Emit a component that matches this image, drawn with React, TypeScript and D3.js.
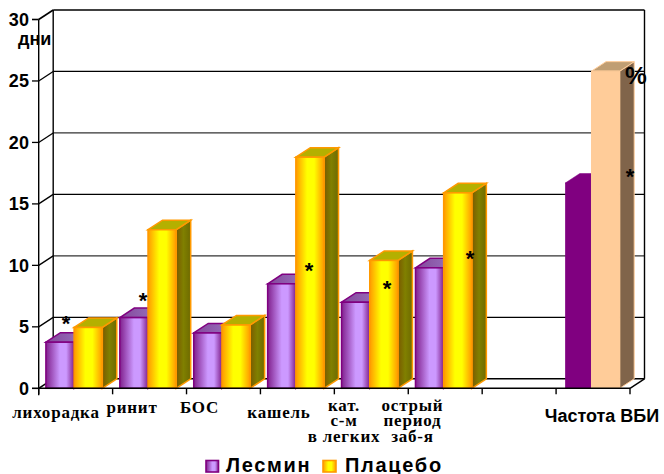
import React from "react";
import * as d3 from "d3";

const categories = ["лихорадка", "ринит", "БОС", "кашель", "кат. с-м", "острый", "", "Частота ВБИ"];
const lesmin = [3.75, 5.75, 4.5, 8.5, 7.0, 9.8, null, 16.7];
const placebo = [4.95, 12.9, 5.15, 18.8, 10.4, 15.9, null, 25.8];
const yTicks = [0, 5, 10, 15, 20, 25, 30];
const seriesNames = ["Лесмин", "Плацебо"];

// Category captions: lines of text, anchor centre, first baseline
const captionLines = [
  { lines: ["лихорадка"], cx: 56, y: 418 },
  { lines: ["ринит"], cx: 132, y: 412.5 },
  { lines: ["БОС"], cx: 199.5, y: 412.5 },
  { lines: ["кашель"], cx: 279, y: 418 },
  { lines: ["кат.", "с-м", "в легких"], cx: 344, y: 410.5 },
  { lines: ["острый", "период", "заб-я"], cx: 412.5, y: 410.5 },
];
const stars = [
  { x: 66, y: 319 },
  { x: 143, y: 296 },
  { x: 309, y: 266 },
  { x: 387, y: 284 },
  { x: 470, y: 254 },
  { x: 630, y: 172 },
];

const W = 664;
const H = 474;
const DX = 14.5;
const DY = 9.5;

const y = d3.scaleLinear().domain([0, 30]).range([388.3, 19.5]);
const x = d3.scaleBand<string>().domain(categories.map((c, i) => `${i}`)).range([38.7, 630]);
const inner = d3.scaleBand<string>().domain(seriesNames).range([7.2, 63.6]);

const poly = (pts: [number, number][]) => d3.line()(pts) + "Z";

type Paint = { front: string; side: string; top: string; stroke: string; sw: number };

const PURPLE: Paint = { front: "url(#purpleFront)", side: "#800080", top: "url(#purpleTop)", stroke: "#800080", sw: 1.5 };
const YELLOW: Paint = { front: "url(#yellowFront)", side: "url(#oliveSide)", top: "#b4b000", stroke: "#ff9900", sw: 1.5 };
const PLAIN_P: Paint = { front: "#800080", side: "#800080", top: "#800080", stroke: "#800080", sw: 0.5 };
const PLAIN_Y: Paint = { front: "#ffcc99", side: "#80644a", top: "#c09e73", stroke: "#ffcc99", sw: 1 };

function Bar({ cat, name, value, paint, inset = 0 }: { cat: string; name: string; value: number; paint: Paint; inset?: number }) {
  const x0 = (x(cat) as number) + (inner(name) as number) + inset;
  const x1 = (x(cat) as number) + (inner(name) as number) + inner.bandwidth();
  const yb = y(0);
  const yt = y(value);
  return (
    <g stroke={paint.stroke} strokeWidth={paint.sw} strokeLinejoin="miter">
      <path d={poly([[x1, yb], [x1 + DX, yb - DY], [x1 + DX, yt - DY], [x1, yt]])} fill={paint.side} />
      <path d={poly([[x0, yt], [x0 + DX, yt - DY], [x1 + DX, yt - DY], [x1, yt]])} fill={paint.top} />
      <rect x={x0} y={yt} width={x1 - x0} height={yb - yt} fill={paint.front} />
    </g>
  );
}

export default function App() {
  const backL = 38.7 + DX;
  const backR = 630 + DX;
  const serif = "'Liberation Serif', serif";
  const sans = "'Liberation Sans', sans-serif";
  return (
    <svg width={W} height={H} viewBox={`0 0 ${W} ${H}`} style={{ position: "fixed", left: 0, top: 0, background: "#fff" }}>
      <defs>
        <linearGradient id="purpleFront" x1="0" y1="0" x2="1" y2="0">
          <stop offset="0" stopColor="#80208c" />
          <stop offset="0.5" stopColor="#cc99ff" />
          <stop offset="0.72" stopColor="#cc99ff" />
          <stop offset="1" stopColor="#80208c" />
        </linearGradient>
        <linearGradient id="yellowFront" x1="0" y1="0" x2="1" y2="0">
          <stop offset="0" stopColor="#ff9900" />
          <stop offset="0.4" stopColor="#ffff00" />
          <stop offset="0.65" stopColor="#ffff00" />
          <stop offset="1" stopColor="#ff9900" />
        </linearGradient>
        <linearGradient id="oliveSide" x1="0" y1="0" x2="1" y2="0">
          <stop offset="0" stopColor="#7a5a00" />
          <stop offset="0.5" stopColor="#808000" />
          <stop offset="1" stopColor="#6e6a00" />
        </linearGradient>
        <linearGradient id="purpleTop" x1="0" y1="0" x2="1" y2="0">
          <stop offset="0" stopColor="#84479a" />
          <stop offset="1" stopColor="#9a78c4" />
        </linearGradient>
      </defs>

      {/* Walls and floor of the 3D frame */}
      <g fill="none" stroke="#000">
        {yTicks.map((t) => (
          <g key={t} strokeWidth={t === 0 || t === 30 ? 1.6 : 1.3}>
            <line x1={32} x2={38.7} y1={y(t)} y2={y(t)} stroke="#000" />
            <line x1={38.7} x2={backL} y1={y(t)} y2={y(t) - DY} />
            <line x1={backL} x2={backR} y1={y(t) - DY} y2={y(t) - DY} stroke={t === 20 || t === 10 ? "#333" : "#000"} />
          </g>
        ))}
        <line x1={38.7} x2={38.7} y1={y(30)} y2={y(0) + 7} strokeWidth={1.4} />
        <line x1={backL} x2={backL} y1={y(30) - DY} y2={y(0) - DY} strokeWidth={1.4} />
        <line x1={backR} x2={backR} y1={y(30) - DY} y2={y(0) - DY} strokeWidth={1.4} />
        <line x1={630} x2={backR} y1={y(0)} y2={y(0) - DY} strokeWidth={1.4} />
        {x.domain().map((d) => (
          <line key={d} x1={x(d)} x2={x(d)} y1={y(0)} y2={y(0) + 6} strokeWidth={1.4} />
        ))}
        <line x1={630} x2={630} y1={y(0)} y2={y(0) + 6} strokeWidth={1.4} />
      </g>

      {categories.map((_, i) => {
        const cat = `${i}`;
        const a = lesmin[i];
        const b = placebo[i];
        if (a === null || b === null) return null;
        const last = i === categories.length - 1;
        return (
          <g key={cat}>
            <Bar cat={cat} name={seriesNames[0]} value={a} paint={last ? PLAIN_P : PURPLE} inset={last ? 2 : 0} />
            <Bar cat={cat} name={seriesNames[1]} value={b} paint={last ? PLAIN_Y : YELLOW} />
          </g>
        );
      })}

      <line x1={38.7} x2={630} y1={y(0)} y2={y(0)} stroke="#000" strokeWidth={1.6} />

      {/* Value axis labels */}
      <g fontFamily={sans} fontWeight="bold" fontSize={18} fill="#000" textAnchor="end" letterSpacing={0.4}>
        {yTicks.map((t) => (
          <text key={t} x={29.5} y={y(t) + 6.5}>{t}</text>
        ))}
      </g>
      <text x={18} y={45} fontFamily={sans} fontWeight="bold" fontSize={18} fill="#000">дни</text>

      {/* Category captions */}
      <g fontFamily={serif} fontWeight="bold" fontSize={17} fill="#000" textAnchor="middle" letterSpacing={0.8}>
        {captionLines.map((c) =>
          c.lines.map((line, k) => (
            <text key={line} x={c.cx} y={c.y + k * 15.6}>{line}</text>
          )),
        )}
      </g>
      <text x={602} y={422} textAnchor="middle" fontFamily={sans} fontWeight="bold" fontSize={18} fill="#000">{categories[7]}</text>

      {/* Significance marks */}
      <g fontFamily={sans} fontWeight="bold" fontSize={22} fill="#000" textAnchor="middle">
        {stars.map((s) => (
          <text key={s.x} x={s.x} y={s.y + 12}>*</text>
        ))}
      </g>
      <text x={636} y={84} textAnchor="middle" fontFamily={sans} fontWeight="bold" fontSize={24.5} fill="#000">%</text>

      {/* Legend */}
      <g fontFamily={sans} fontWeight="bold" fontSize={20} fill="#000" letterSpacing={1.7}>
        <rect x={206} y={460.5} width={12.5} height={11.5} fill="url(#purpleFront)" stroke="#800080" strokeWidth={1.6} />
        <text x={226} y={471.5}>{seriesNames[0]}</text>
        <rect x={323} y={460.5} width={13} height={11.5} fill="url(#yellowFront)" stroke="#ff9900" strokeWidth={1.6} />
        <text x={345} y={471.5}>{seriesNames[1]}</text>
      </g>
    </svg>
  );
}
